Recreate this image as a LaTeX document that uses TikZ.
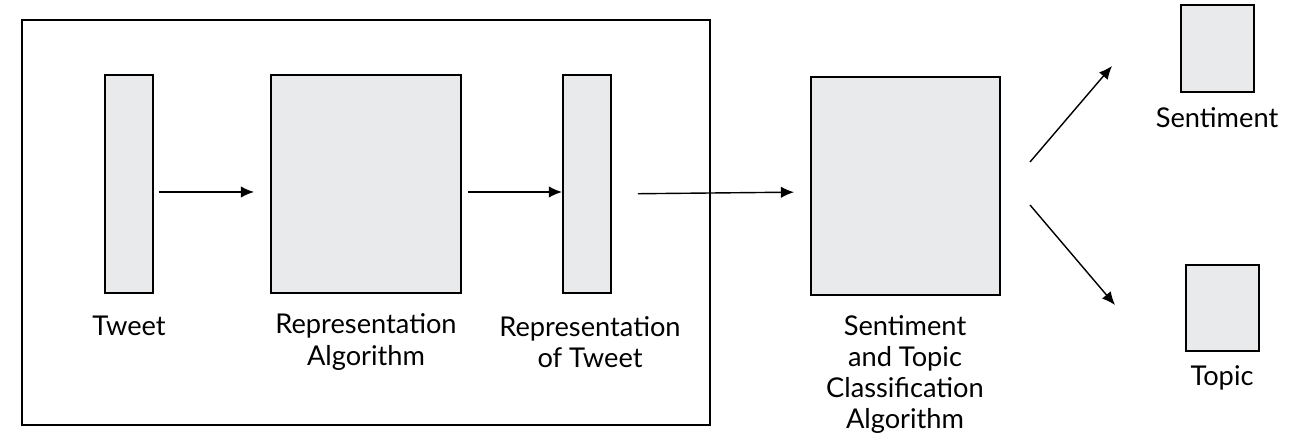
\documentclass[tikz,border=0pt]{standalone}
\usepackage{fontspec}
\setmainfont{Lato}
\usetikzlibrary{arrows.meta}
\definecolor{boxfill}{RGB}{232,234,235}

\begin{document}
\begin{tikzpicture}[x=0.02cm,y=-0.02cm,
  block/.style={draw=black,line width=1.1pt,fill=boxfill,inner sep=0pt},
  lbl/.style={align=center,inner sep=0pt,font=\fontsize{15.5}{17.8}\selectfont},
  flow/.style={-{Latex[length=7.5pt,width=6.5pt]},line width=0.8pt}]
  \useasboundingbox (0,0) rectangle (1294,438);
  \draw[line width=1.1pt] (22,20) rectangle (710,425);
  % boxes
  \node[block,minimum width=0.96cm,minimum height=4.36cm] (tweet) at (129,184) {};
  \node[block,minimum width=3.8cm,minimum height=4.36cm] (repalg) at (366,184) {};
  \node[block,minimum width=0.96cm,minimum height=4.36cm] (reptweet) at (587,184) {};
  \node[block,minimum width=3.78cm,minimum height=4.36cm] (classif) at (905.5,186) {};
  \node[block,minimum width=1.46cm,minimum height=1.74cm] (sent) at (1217.5,48.5) {};
  \node[block,minimum width=1.46cm,minimum height=1.72cm] (topic) at (1222.5,308) {};
  % labels
  \node[lbl] (tweetlbl) at (129,326) {Tweet};
  \node[lbl] (repalglbl) at (366,342) {Representation\\Algorithm};
  \node[lbl] (reptweetlbl) at (590,342) {Representation\\of Tweet};
  \node[lbl] (classiflbl) at (905,374.5) {Sentiment\\and Topic\\Classification\\Algorithm};
  \node[lbl] (sentlbl) at (1217,118) {Sentiment};
  \node[lbl] (topiclbl) at (1222,378) {Topic};
  % arrows
  \draw[flow,shorten <=5*0.02cm,shorten >=16*0.02cm] (tweet.east |- 0,192) -- (repalg.west |- 0,192);
  \draw[flow,shorten <=6*0.02cm] (repalg.east |- 0,192) -- (reptweet.west |- 0,192);
  \draw[flow,shorten <=26*0.02cm,shorten >=16*0.02cm] (reptweet.east |- 0,194) -- (classif.west |- 0,192);
  \coordinate (up0) at (1030,162);
  \coordinate (up1) at (1112,66);
  \coordinate (dn0) at (1030,205);
  \coordinate (dn1) at (1115,305);
  \draw[flow] (up0) -- (up1);
  \draw[flow] (dn0) -- (dn1);
\end{tikzpicture}
\end{document}
